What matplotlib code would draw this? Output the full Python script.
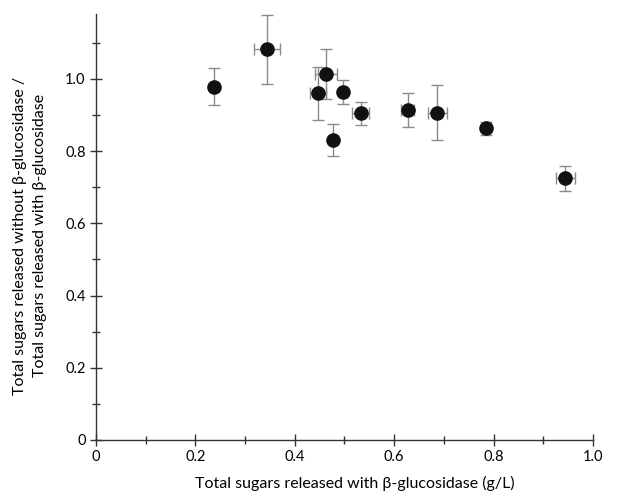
import matplotlib
matplotlib.use('Agg')
import matplotlib.pyplot as plt
from matplotlib.ticker import MultipleLocator, FuncFormatter

plt.rcParams['font.family'] = ['Lato', 'DejaVu Sans']

# total sugars with beta-glucosidase (g/L) and ratio without/with
x = [0.238, 0.344, 0.447, 0.462, 0.498, 0.476, 0.533, 0.627, 0.687, 0.785, 0.944]
y = [0.979, 1.082, 0.960, 1.014, 0.964, 0.831, 0.905, 0.913, 0.907, 0.864, 0.725]
xerr = [0.0, 0.0255, 0.016, 0.022, 0.007, 0.0, 0.017, 0.013, 0.019, 0.004, 0.019]
yerr = [0.050, 0.096, 0.074, 0.069, 0.033, 0.044, 0.032, 0.047, 0.075, 0.018, 0.035]

fig = plt.figure(figsize=(6.19, 4.91), dpi=100)
ax = fig.add_axes([0.155, 0.104, 0.803, 0.8675])

ax.errorbar(x, y, xerr=xerr, yerr=yerr, fmt='none', ecolor='#8a8a8a',
            elinewidth=1.0, capsize=4, capthick=1.0, zorder=2)
ax.plot(x, y, 'o', color='#111111', markersize=9.5, zorder=3)

ax.set_xlim(0, 1.0)
ax.set_ylim(0, 1.18)

for s in ['top', 'right']:
    ax.spines[s].set_visible(False)
for s in ['left', 'bottom']:
    ax.spines[s].set_color('#333333')
    ax.spines[s].set_linewidth(1.0)

ax.xaxis.set_major_locator(MultipleLocator(0.2))
ax.xaxis.set_minor_locator(MultipleLocator(0.1))
ax.yaxis.set_major_locator(MultipleLocator(0.2))
ax.yaxis.set_minor_locator(MultipleLocator(0.1))

fmt = FuncFormatter(lambda v, p: '0' if abs(v) < 1e-9 else '%.1f' % v)
ax.xaxis.set_major_formatter(fmt)
ax.yaxis.set_major_formatter(fmt)

ax.tick_params(which='both', direction='inout', color='#333333', labelsize=10.5)
ax.tick_params(which='major', length=8, width=1.0)
ax.tick_params(which='minor', length=6, width=1.0)

ax.set_xlabel('Total sugars released with β-glucosidase (g/L)', fontsize=11.5, labelpad=8)
ax.xaxis.label.set_x(0.52)
ax.set_ylabel('Total sugars released without β-glucosidase /\nTotal sugars released with β-glucosidase',
              fontsize=11.5, labelpad=13, linespacing=1.5)
ax.yaxis.label.set_y(0.48)

fig.savefig('out.png', dpi=100)
